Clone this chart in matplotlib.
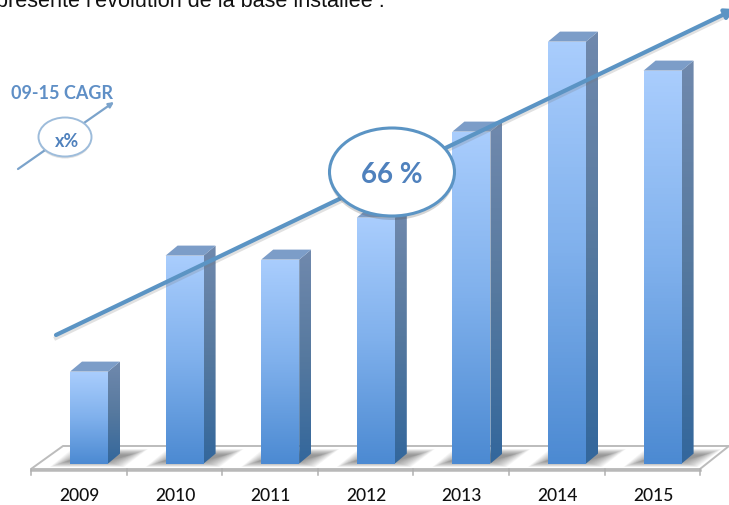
import numpy as np
import matplotlib
matplotlib.use("Agg")
import matplotlib.pyplot as plt
from matplotlib.colors import LinearSegmentedColormap
from matplotlib.patches import Ellipse, Polygon

years = ["2009", "2010", "2011", "2012", "2013", "2014", "2015"]
heights = [92, 208, 204, 246, 332, 422, 393]

caption = "présente l'évolution de la base installée :"
legend_title = "09-15 CAGR"
legend_value = "x%"
cagr_label = "66 %"

base_y = 464.6
first_x = 70
step = 95.6
bar_w = 38
dx = 12
dy = 10

blue_line = "#5b94c4"
blue_text = "#4f81bd"
calibri_like = ["Lato", "DejaVu Sans"]

fig = plt.figure(figsize=(7.29, 5.06), dpi=100)
ax = fig.add_axes([0, 0, 1, 1])
ax.set_xlim(0, 729)
ax.set_ylim(506, 0)
ax.axis("off")

front_cm = LinearSegmentedColormap.from_list("front", ["#a9cdfd", "#7fb0ec", "#4c8ad2"])
side_cm = LinearSegmentedColormap.from_list("side", ["#7089ad", "#56799f", "#33679c"])
grad = np.linspace(0, 1, 128).reshape(-1, 1)

# floor
floor = Polygon([(31, 470), (63, 447), (729, 447), (700, 470)], closed=True,
                fc="white", ec="#bcbcbc", lw=1.4, zorder=1)
ax.add_patch(floor)
ax.plot([31, 31 + 7 * step], [470.5, 470.5], color="#b8b8b8", lw=1.8, zorder=1.1)
for i in range(8):
    tick_x = 31 + i * step
    ax.plot([tick_x, tick_x], [470, 476], color="#b0b0b0", lw=1.1, zorder=1.1)

for i, h in enumerate(heights):
    x0 = first_x + i * step
    x1 = x0 + bar_w
    top = base_y - h

    # soft shadow on the floor, stacked shrinking shapes
    for k in range(14):
        g = 1.3 * k
        v = 0.45 * k
        shadow = Polygon([(x0 - 20 + g, 468 - v), (x0 + 2 + g, 450 + v),
                          (x1 + 40 - g, 450 + v), (x1 + 16 - g, 468 - v)],
                         closed=True, fc="#444444", ec="none", alpha=0.05, zorder=1.5)
        ax.add_patch(shadow)

    ax.imshow(grad, cmap=front_cm, extent=(x0, x1, base_y, top), aspect="auto", zorder=3)

    side = Polygon([(x1, top), (x1 + dx, top - dy), (x1 + dx, base_y - dy), (x1, base_y)],
                   closed=True, fc="none", ec="none", zorder=3)
    ax.add_patch(side)
    im = ax.imshow(grad, cmap=side_cm, extent=(x1, x1 + dx, base_y, top - dy),
                   aspect="auto", zorder=3)
    im.set_clip_path(side)

    ax.add_patch(Polygon([(x0, top), (x0 + dx, top - dy), (x1 + dx, top - dy), (x1, top)],
                         closed=True, fc="#7c9dc8", ec="none", zorder=3))

    ax.text(x0 + bar_w / 2 - 9.5, 496, years[i], ha="center", va="center",
            fontsize=12.5, fontweight="medium", color="#111111", family=calibri_like)

ax.set_xlim(0, 729)
ax.set_ylim(506, 0)

# trend arrow, faint shadow first
ax.plot([56, 722], [339, 19], color="#777777", lw=3, alpha=0.22, zorder=4)
ax.annotate("", xy=(735, 10), xytext=(56, 336), zorder=5, annotation_clip=False,
            arrowprops=dict(arrowstyle="-|>,head_width=0.3,head_length=0.55",
                            color=blue_line, lw=3, shrinkA=0, shrinkB=0))

# big ellipse
ax.add_patch(Ellipse((392, 177), 125, 88, fc="#555555", ec="none", alpha=0.25, zorder=5.5))
ax.add_patch(Ellipse((392, 173), 125, 88, fc="white", ec=blue_line, lw=2.2, zorder=6))
ax.text(392, 175, cagr_label, ha="center", va="center", fontsize=20, fontweight="bold",
        color=blue_text, family=calibri_like, zorder=7)

# legend
ax.annotate("", xy=(114, 103), xytext=(18, 170), zorder=5,
            arrowprops=dict(arrowstyle="-|>,head_width=0.15,head_length=0.3",
                            color="#7ba3cb", lw=1.6, shrinkA=0, shrinkB=0))
ax.add_patch(Ellipse((65, 140), 53, 39, fc="#888888", ec="none", alpha=0.25, zorder=5.5))
ax.add_patch(Ellipse((65, 138), 53, 39, fc="white", ec="#9dbcdb", lw=1.4, zorder=6))
ax.text(67, 141, legend_value, ha="center", va="center", fontsize=13, fontweight="bold",
        color=blue_text, family=calibri_like, zorder=7)
ax.text(62, 93, legend_title, ha="center", va="center", fontsize=13, fontweight="bold",
        color="#5f8fc6", family=calibri_like)

ax.text(-4, 7, caption, ha="left", va="baseline", fontsize=15.6, color="#111111",
        family="Liberation Sans")

fig.savefig("out.png", dpi=100)
